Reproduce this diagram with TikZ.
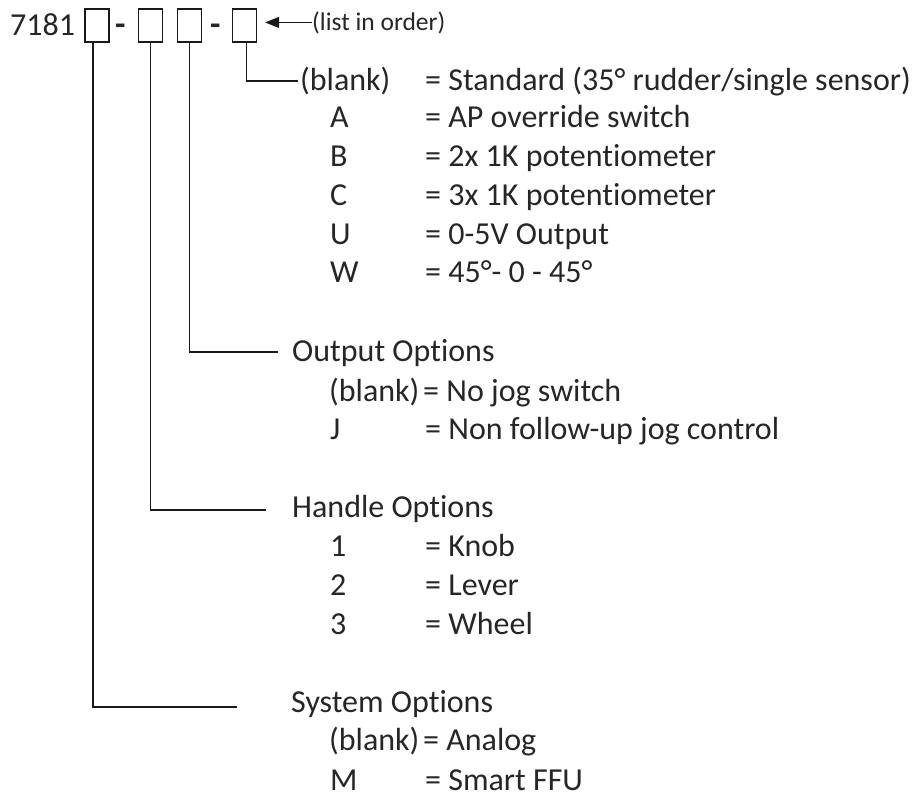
\documentclass[tikz,border=0pt]{standalone}
\usepackage{fontspec}
\setmainfont{Carlito}[Ligatures=NoCommon]
\usetikzlibrary{arrows.meta}
\begin{document}
\begin{tikzpicture}[x=1pt,y=-1pt,
  txt/.style={anchor=base west, inner sep=0pt, font=\fontsize{32}{38}\selectfont, text=black!85},
  sm/.style={anchor=base west, inner sep=0pt, font=\fontsize{25.5}{30}\selectfont, text=black!85},
  slot/.style={draw=black!90, line width=1.4pt, minimum width=24pt, minimum height=33pt, inner sep=0pt},
  lead/.style={line width=1.4pt, draw=black!90}]
\useasboundingbox (0,0) rectangle (922,798);

% top code line
\node[txt] (code) at (10,35) {7181};
\node[txt, font=\fontsize{34}{38}\selectfont\bfseries] (d1) at (115,35) {-};
\node[slot] (b1) at (97,25.5) {};
\node[slot] (b2) at (150.5,25.5) {};
\node[slot] (b3) at (189.5,25.5) {};
\node[txt, font=\fontsize{34}{38}\selectfont\bfseries] (d2) at (210,35) {-};
\node[slot] (b4) at (244.5,25.5) {};
\node[sm] (lst) at (312,30) {(list in order)};
\draw[lead, -{Triangle[length=14pt,width=11pt]}] (lst.west) -- ([xshift=8pt]lst.west -| b4.east);

% leader end points
\coordinate (e4) at (298,81);
\coordinate (e3) at (278,352);
\coordinate (e2) at (266,510);
\coordinate (e1) at (237,707);

\draw[lead] ([xshift=2pt]b4.south) |- (e4);
\draw[lead] (b3.south) |- (e3);
\draw[lead] (b2.south) |- (e2);
\draw[lead] ([xshift=-4pt]b1.south) |- (e1);

% top group
\node[txt] (t0k) at (300,90) {(blank)};
\node[txt] (t0v) at (425,90) {= Standard (35° rudder/single sensor)};
\node[txt] (t1k) at (330,127) {A};
\node[txt] (t1v) at (425,127) {= AP override switch};
\node[txt] (t2k) at (330,166) {B};
\node[txt] (t2v) at (425,166) {= 2x 1K potentiometer};
\node[txt] (t3k) at (330,205) {C};
\node[txt] (t3v) at (425,205) {= 3x 1K potentiometer};
\node[txt] (t4k) at (330,244) {U};
\node[txt] (t4v) at (425,244) {= 0-5V Output};
\node[txt] (t5k) at (330,282) {W};
\node[txt] (t5v) at (425,282) {= 45°- 0 - 45°};

% output options
\node[txt] (oh) at (292,361) {Output Options};
\node[txt] (o0k) at (329,401) {(blank)};
\node[txt] (o0v) at (423,401) {= No jog switch};
\node[txt] (o1k) at (330,439) {J};
\node[txt] (o1v) at (425,439) {= Non follow-up jog control};

% handle options
\node[txt] (hh) at (292,517) {Handle Options};
\node[txt] (h1k) at (330,556) {1};
\node[txt] (h1v) at (425,556) {= Knob};
\node[txt] (h2k) at (330,595) {2};
\node[txt] (h2v) at (425,595) {= Lever};
\node[txt] (h3k) at (330,634) {3};
\node[txt] (h3v) at (425,634) {= Wheel};

% system options
\node[txt] (sh) at (291,712) {System Options};
\node[txt] (s0k) at (329,750) {(blank)};
\node[txt] (s0v) at (423,750) {= Analog};
\node[txt] (s1k) at (330,790) {M};
\node[txt] (s1v) at (425,790) {= Smart FFU};
\end{tikzpicture}
\end{document}
